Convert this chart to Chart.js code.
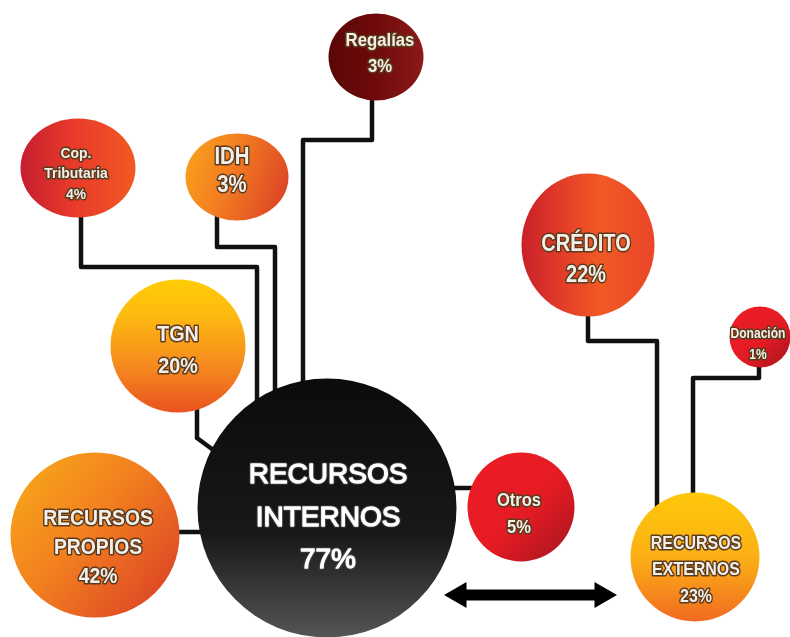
<!DOCTYPE html>
<html><head><meta charset="utf-8">
<script src="https://cdn.jsdelivr.net/npm/chart.js@4"></script>
<style>html,body{margin:0;padding:0;background:#fff;overflow:hidden}canvas{display:block}</style>
</head><body>
<canvas id="c" width="790" height="637"></canvas>
<script>
// ---- data ----
const categories = ['Regalías','Cop. Tributaria','IDH','CRÉDITO','Donación','TGN','RECURSOS INTERNOS','Otros','RECURSOS PROPIOS','RECURSOS EXTERNOS'];
const labelLines = [['Regalías'],['Cop.','Tributaria'],['IDH'],['CRÉDITO'],['Donación'],['TGN'],['RECURSOS','INTERNOS'],['Otros'],['RECURSOS','PROPIOS'],['RECURSOS','EXTERNOS']];
const percentages = [3,4,3,22,1,20,77,5,42,23];
const bubbleX = [376,78,237,588,760,178,327,521,95,695];
const bubbleY = [57,168,177,245,337,346,508,507,535,557];
const bubbleR = [46,54,48,70,31,68,130,54,84,65];
// connectors (diagram coordinates)
const connRegalias = [[372,101],[372,140],[303,140],[303,400]];
const connIDH = [[217,215],[217,247],[275,247],[275,400]];
const connCop = [[81,212],[81,267],[257,267],[257,410]];
const connTGN = [[197,405],[197,438],[216,452]];
const connPropios = [[175,532],[220,532]];
const connOtros = [[440,488],[475,488]];
const connCredito = [[588,310],[588,341],[657,341],[657,520]];
const connDonacion = [[759,362],[759,378],[693,378],[693,520]];
const arrowLine = [[459,595],[602,595]];

// ---- styles ----
const ellipseRX = [48,58,52,67,31,68,130,54,85,65];
const ellipseRY = [44,50,44,72,31,67,130,55,83,65];
const gradAngle = [0,0,20,0,45,90,90,45,40,90];
const gradStops = [
  [[0,'#5a0606'],[0.5,'#6f0a0b'],[1,'#8c1a18']],
  [[0,'#c41e2e'],[0.45,'#e8392a'],[1,'#f15a22']],
  [[0,'#f9a61b'],[0.45,'#f27b21'],[1,'#d93a28']],
  [[0,'#c8202a'],[0.3,'#e23c28'],[0.6,'#f15a24'],[1,'#e9452a']],
  [[0,'#ee1d25'],[0.55,'#e41b24'],[1,'#a3141f']],
  [[0,'#ffcd05'],[0.25,'#fdbc10'],[0.65,'#f58a1f'],[1,'#e9521f']],
  [[0,'#0b0b0b'],[0.6,'#181818'],[1,'#555555']],
  [[0,'#ee1c24'],[0.55,'#e51b24'],[1,'#a1151f']],
  [[0,'#f9ad19'],[0.45,'#f2801f'],[1,'#d93927']],
  [[0,'#ffc80a'],[0.5,'#fbb016'],[1,'#f26a22']]
];
const fontSize = [19,15,24,24,14,22,28,18,22,19];
const condense = [0.88,0.93,0.85,0.83,0.86,0.9,1,0.92,0.88,0.84];
const lineGap = [26,20.5,28,31,21,32,42.5,27,29,26.5];
const textDx = [4,-2,-5,-2,-2,0,1,-2,3,1];
const textDy = [-3,6,-6,15,8,5,10,8,13,13];

function makeBubble(rx, ry, angle, stops){
  const c = document.createElement('canvas');
  c.width = Math.round(2*rx); c.height = Math.round(2*ry);
  const g = c.getContext('2d');
  const a = angle*Math.PI/180, dx = Math.cos(a), dy = Math.sin(a);
  const L = Math.abs(dx*rx)+Math.abs(dy*ry);
  const lg = g.createLinearGradient(rx-dx*L, ry-dy*L, rx+dx*L, ry+dy*L);
  stops.forEach(s => lg.addColorStop(s[0], s[1]));
  g.fillStyle = lg;
  g.beginPath(); g.ellipse(rx, ry, rx-0.5, ry-0.5, 0, 0, Math.PI*2); g.fill();
  return c;
}
const bubbleImages = categories.map((_, i) => makeBubble(ellipseRX[i], ellipseRY[i], gradAngle[i], gradStops[i]));

const toPts = arr => arr.map(p => ({x:p[0], y:p[1]}));
const lineDs = (arr) => ({
  type:'line', data: toPts(arr), borderColor:'#111', borderWidth:4.5,
  borderJoinStyle:'round', borderCapStyle:'round', pointRadius:0, fill:false,
  tension:0, order:3, clip:false
});

const labelPlugin = {
  id:'bubbleLabels',
  afterDatasetsDraw(chart){
    const meta = chart.getDatasetMeta(0);
    const ctx = chart.ctx;
    meta.data.forEach((el, i) => {
      const lines = labelLines[i].concat([percentages[i] + '%']);
      const fs = fontSize[i];
      const isMain = i === 6;
      ctx.save();
      ctx.font = (isMain ? 'normal ' : 'bold ') + fs + 'px "Liberation Sans", Arial, sans-serif';
      ctx.textAlign = 'center'; ctx.textBaseline = 'middle';
      ctx.lineJoin = 'round';
      const cx = el.x + textDx[i];
      const cy = el.y + textDy[i];
      const n = lines.length;
      lines.forEach((t, k) => {
        const y = cy + (k - (n-1)/2) * lineGap[i];
        ctx.save();
        ctx.translate(cx, y);
        ctx.scale(condense[i], 1);
        if (isMain) {
          ctx.lineWidth = 3.5; ctx.strokeStyle = 'rgba(70,70,70,0.7)';
          ctx.strokeText(t, 0, 0);
          ctx.lineWidth = 1.3; ctx.strokeStyle = '#fff';
          ctx.strokeText(t, 0, 0);
          ctx.fillStyle = '#fff'; ctx.fillText(t, 0, 0);
        } else {
          ctx.lineWidth = 3.2; ctx.strokeStyle = '#5b3a1e';
          ctx.strokeText(t, 0, 0);
          ctx.fillStyle = '#f3efe7'; ctx.fillText(t, 0, 0);
        }
        ctx.restore();
      });
      ctx.restore();
    });
  }
};

new Chart(document.getElementById('c'), {
  type:'bubble',
  data:{
    datasets:[
      {
        label:'Fuentes', order:1, clip:false,
        data: categories.map((c, i) => ({x:bubbleX[i], y:bubbleY[i], r:bubbleR[i]})),
        pointStyle: bubbleImages,
        backgroundColor:'rgba(0,0,0,0)', borderWidth:0
      },
      lineDs(connRegalias), lineDs(connIDH), lineDs(connCop), lineDs(connTGN),
      lineDs(connPropios), lineDs(connOtros), lineDs(connCredito), lineDs(connDonacion),
      {
        type:'line', data: toPts(arrowLine), borderColor:'#000', borderWidth:11,
        pointStyle:'triangle', pointRotation:[270,90], pointRadius:15,
        pointBackgroundColor:'#000', pointBorderColor:'#000', pointBorderWidth:0,
        fill:false, order:2, clip:false
      }
    ]
  },
  options:{
    responsive:false, animation:false, events:[],
    layout:{padding:0, autoPadding:false},
    plugins:{legend:{display:false}, tooltip:{enabled:false}},
    scales:{
      x:{type:'linear', min:0, max:790, display:false},
      y:{type:'linear', min:0, max:637, reverse:true, display:false}
    }
  },
  plugins:[labelPlugin]
});
</script>
</body></html>
